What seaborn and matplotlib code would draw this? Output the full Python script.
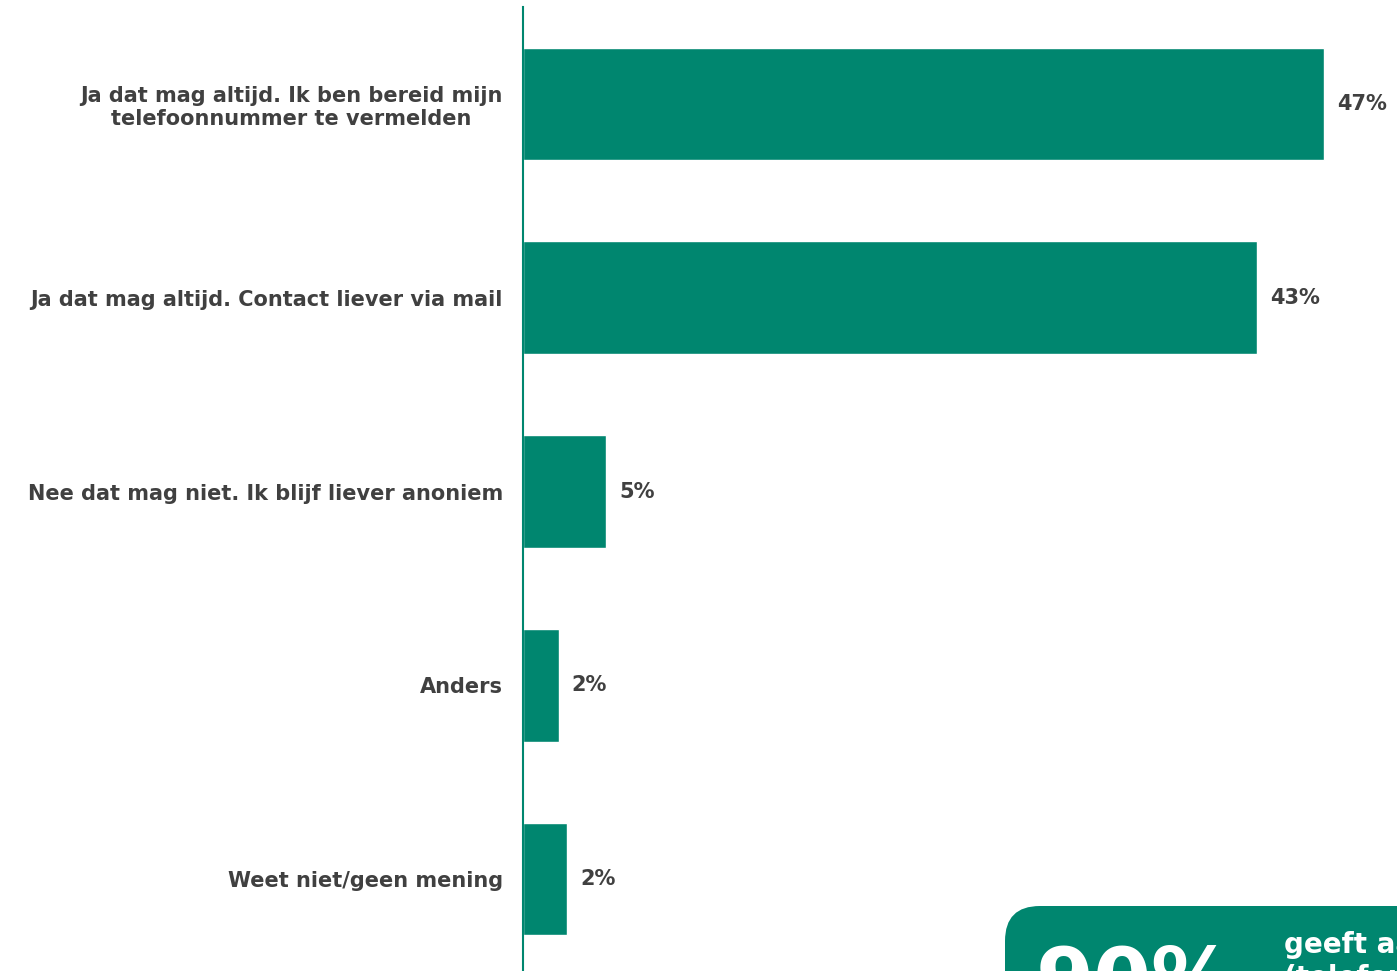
import matplotlib
matplotlib.use("Agg")
import matplotlib.pyplot as plt
import seaborn as sns
import pandas as pd
from matplotlib.patches import FancyBboxPatch

categories = [
    "Ja dat mag altijd. Ik ben bereid mijn\ntelefoonnummer te vermelden",
    "Ja dat mag altijd. Contact liever via mail",
    "Nee dat mag niet. Ik blijf liever anoniem",
    "Anders",
    "Weet niet/geen mening",
]
values = [47.0, 43.1, 4.9, 2.1, 2.6]
value_labels = ["47%", "43%", "5%", "2%", "2%"]
callout_big = "90%"
callout_lines = ["geeft aan", "(telefonisch"]

GREEN = "#00866F"
TEXT = "#404040"

sns.set_theme(style="white")
plt.rcParams["font.family"] = ["DejaVu Sans"]

fig = plt.figure(figsize=(13.97, 9.71), dpi=100)
W, H = 1397, 971
ax = fig.add_axes([523 / W, -5 / H, (W - 523) / W, (971 - 7 + 5) / H])

df = pd.DataFrame({"cat": categories, "val": values})
sns.barplot(data=df, y="cat", x="val", orient="h", color=GREEN, saturation=1,
            width=0.58, ax=ax)

ax.set_xlim(0, 874 / 17.04)
ax.set_ylim(4.5, -0.5)
ax.set_xlabel("")
ax.set_ylabel("")
ax.set_xticks([])
for s in ["top", "right", "bottom"]:
    ax.spines[s].set_visible(False)
ax.spines["left"].set_color(GREEN)
ax.spines["left"].set_linewidth(1.5)
ax.tick_params(axis="y", length=0, pad=14.5)
for lbl in ax.get_yticklabels():
    lbl.set_fontsize(15)
    lbl.set_fontweight("bold")
    lbl.set_color(TEXT)
    lbl.set_horizontalalignment("right")
    lbl.set_multialignment("center")

for i, (v, t) in enumerate(zip(values, value_labels)):
    ax.text(v + 0.75, i, t, va="center", ha="left", fontsize=15,
            fontweight="bold", color=TEXT)

# callout box (partially off-canvas)
box = FancyBboxPatch((1005 / W, -0.2), 0.5, (1 - 906 / H) + 0.2,
                     boxstyle="round,pad=0,rounding_size=0.025",
                     transform=fig.transFigure, facecolor=GREEN,
                     edgecolor="none", mutation_aspect=W / H)
fig.patches.append(box)
fig.text(1036 / W, 1 - 1008 / H, callout_big, fontsize=60, fontweight="bold",
         color="white", ha="left", va="baseline")
for k, line in enumerate(callout_lines):
    fig.text(1284 / W, 1 - (953 + 33 * k) / H, line, fontsize=20,
             fontweight="bold", color="white", ha="left", va="baseline")

fig.savefig("out.png", dpi=100)
